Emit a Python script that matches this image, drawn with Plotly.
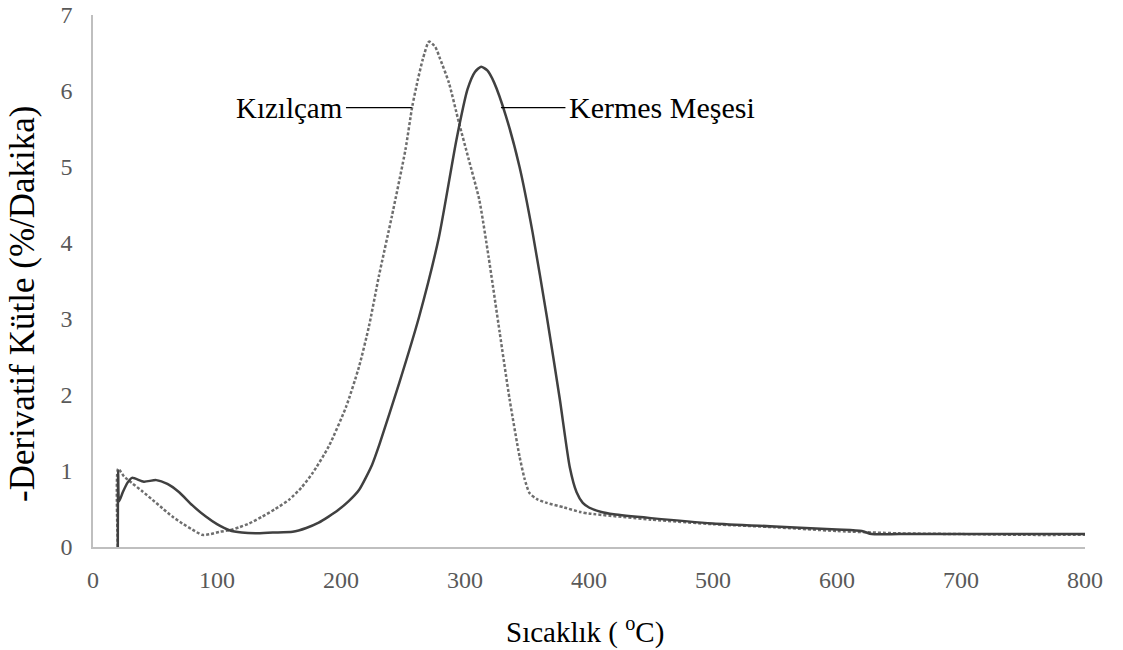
import plotly.graph_objects as go

# Temperature (°C) and derivative mass loss (%/min) for each wood species
kermes_temp = [20, 20.3, 21, 24, 28, 31.5, 41, 51, 60, 69.5, 80, 91, 100, 110, 120, 131,
               145, 161, 172, 182, 190, 198, 206, 214.5, 225, 231, 247, 263, 279, 293,
               302, 308, 313, 318, 323.5, 333, 344, 354.5, 366, 376.5, 384.5, 390, 395,
               400, 410, 420, 450, 500, 550, 600, 620, 628, 650, 700, 750, 800]
kermes_dtg = [0, 1.0, 0.6, 0.72, 0.85, 0.91, 0.86, 0.88, 0.83, 0.72, 0.55, 0.40, 0.30, 0.22,
              0.19, 0.18, 0.19, 0.20, 0.25, 0.32, 0.40, 0.49, 0.60, 0.75, 1.08, 1.35, 2.16,
              3.03, 4.08, 5.35, 6.02, 6.25, 6.32, 6.27, 6.11, 5.67, 5.0, 4.14, 3.03, 1.94,
              1.05, 0.72, 0.58, 0.52, 0.46, 0.43, 0.38, 0.31, 0.27, 0.23, 0.21, 0.17, 0.17,
              0.17, 0.17, 0.17]

kizilcam_temp = [20, 20.3, 25, 31.5, 40, 48, 56, 64, 72, 80, 88, 95, 102, 110, 118, 126,
                 136.5, 147, 158, 168, 177, 190, 204, 214.5, 222.5, 230.5, 241, 252, 257.5,
                 262, 266, 271, 276, 280, 287, 295, 303, 311.5, 319, 328, 336, 344, 348,
                 352, 358, 366, 380, 393, 400, 450, 500, 550, 600, 650, 700, 750, 800]
kizilcam_dtg = [0, 1.03, 0.93, 0.84, 0.73, 0.62, 0.51, 0.40, 0.31, 0.23, 0.16, 0.17, 0.20,
                0.22, 0.26, 0.31, 0.40, 0.50, 0.62, 0.78, 0.97, 1.32, 1.84, 2.37, 2.9, 3.56,
                4.35, 5.23, 5.80, 6.15, 6.42, 6.65, 6.58, 6.42, 6.11, 5.59, 5.10, 4.57, 3.82,
                2.82, 1.94, 1.19, 0.90, 0.71, 0.63, 0.58, 0.52, 0.46, 0.44, 0.36, 0.30, 0.26,
                0.21, 0.18, 0.17, 0.16, 0.16]

x_ticks = [0, 100, 200, 300, 400, 500, 600, 700, 800]
y_ticks = [0, 1, 2, 3, 4, 5, 6, 7]

serif = "'Times New Roman', 'Liberation Serif', 'DejaVu Serif', serif"

W, H = 1123, 650
ML, MR, MT, MB = 93, 38, 15, 103
plot_w = W - ML - MR
plot_h = H - MT - MB

fig = go.Figure()
fig.add_trace(go.Scatter(x=kizilcam_temp, y=kizilcam_dtg, mode="lines", name="Kızılçam",
                         line=dict(color="#6e6e6e", width=2.5, dash="3px,2px",
                                   shape="spline", smoothing=0.6)))
fig.add_trace(go.Scatter(x=kermes_temp, y=kermes_dtg, mode="lines", name="Kermes Meşesi",
                         line=dict(color="#404040", width=2.5,
                                   shape="spline", smoothing=0.6)))

# Leader lines from the series labels to the curves
label_y = 5.78
fig.add_shape(type="line", xref="x", yref="y", x0=204, x1=257, y0=label_y, y1=label_y,
              line=dict(color="#000000", width=1.2))
fig.add_shape(type="line", xref="x", yref="y", x0=329, x1=381, y0=label_y, y1=label_y,
              line=dict(color="#000000", width=1.2))
fig.add_annotation(x=203, y=label_y, xref="x", yref="y", text="Kızılçam", showarrow=False,
                   xanchor="right", yanchor="middle",
                   font=dict(family=serif, size=29, color="#000000"))
fig.add_annotation(x=382, y=label_y, xref="x", yref="y", text="Kermes Meşesi", showarrow=False,
                   xanchor="left", yanchor="middle",
                   font=dict(family=serif, size=30, color="#000000"))

# Axis titles placed in paper coordinates
fig.add_annotation(x=(585 - ML) / plot_w, y=-(630 - MT - plot_h) / plot_h,
                   xref="paper", yref="paper", text="Sıcaklık ( <sup>o</sup>C)",
                   showarrow=False, xanchor="center", yanchor="middle",
                   font=dict(family=serif, size=29, color="#000000"))
fig.add_annotation(x=(22 - ML) / plot_w, y=1 - (304 - MT) / plot_h,
                   xref="paper", yref="paper", text="-Derivatif Kütle (%/Dakika)",
                   textangle=-90, showarrow=False, xanchor="center", yanchor="middle",
                   font=dict(family=serif, size=35, color="#000000"))

fig.update_layout(
    width=W, height=H,
    margin=dict(l=ML, r=MR, t=MT, b=MB),
    paper_bgcolor="white", plot_bgcolor="white",
    showlegend=False,
    font=dict(family=serif),
)
fig.update_xaxes(
    range=[0, 800], tickvals=x_ticks, ticktext=[str(v) for v in x_ticks],
    showgrid=False, zeroline=False, showline=True, linecolor="#bfbfbf", linewidth=1.5,
    ticks="", tickfont=dict(family=serif, size=24, color="#595959"),
    ticklabelstandoff=10, automargin=False,
)
fig.update_yaxes(
    range=[0, 7], tickvals=y_ticks, ticktext=[str(v) for v in y_ticks],
    showgrid=False, zeroline=False, showline=True, linecolor="#bfbfbf", linewidth=1.5,
    ticks="", tickfont=dict(family=serif, size=24, color="#595959"),
    ticklabelstandoff=14, automargin=False,
)

fig.write_html("out.html")
